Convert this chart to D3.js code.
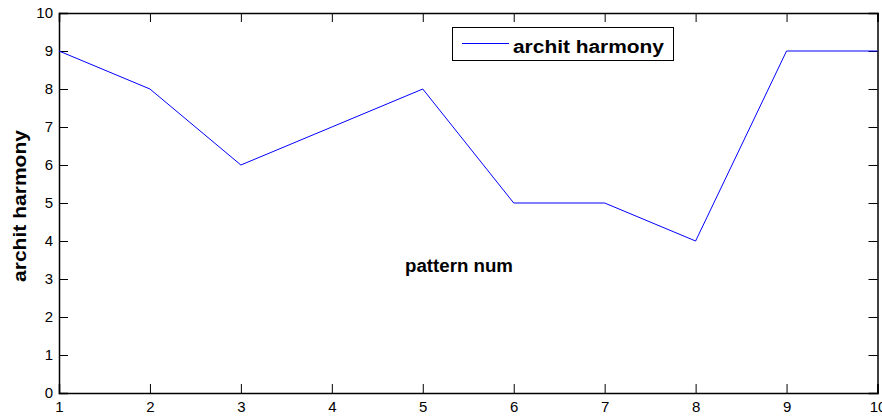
<!DOCTYPE html>
<html><head><meta charset="utf-8">
<script src="https://cdn.jsdelivr.net/npm/d3@7/dist/d3.min.js"></script>
<style>body{margin:0;background:#fff}svg{display:block}text{font-family:"Liberation Sans",Arial,sans-serif}</style>
</head><body><svg id="c" width="882" height="416"></svg>
<script>
const patterns = [1,2,3,4,5,6,7,8,9,10];
const harmony = [9,8,6,7,8,5,5,4,9,9];
const xTicks = [1,2,3,4,5,6,7,8,9,10];
const yTicks = [0,1,2,3,4,5,6,7,8,9,10];
const seriesName = "archit harmony";
const xLabel = "pattern num";
const yLabel = "archit harmony";

const svg = d3.select("#c");
const L=59, R=877.5, T=13, B=393;
const x = d3.scaleLinear().domain([1,10]).range([L,R]);
const y = d3.scaleLinear().domain([0,10]).range([B,T]);

svg.append("rect").attr("x",0).attr("y",0).attr("width",882).attr("height",416).attr("fill","#fff");

const tl=9;
const gB = svg.append("g").attr("transform",`translate(0,${B})`)
  .call(d3.axisBottom(x).tickValues(xTicks).tickSize(-tl).tickPadding(8).tickFormat(d3.format("d")));
const gT = svg.append("g").attr("transform",`translate(0,${T})`)
  .call(d3.axisTop(x).tickValues(xTicks).tickSize(-tl).tickFormat(""));
const gL = svg.append("g").attr("transform",`translate(${L},0)`)
  .call(d3.axisLeft(y).tickValues(yTicks).tickSize(-tl).tickPadding(6).tickFormat(d3.format("d")));
const gR = svg.append("g").attr("transform",`translate(${R},0)`)
  .call(d3.axisRight(y).tickValues(yTicks).tickSize(-tl).tickFormat(""));
[gB,gT,gL,gR].forEach(g=>{
  g.select(".domain").attr("stroke","#000").attr("stroke-width",1.5);
  g.selectAll(".tick line").attr("stroke","#000");
  g.selectAll(".tick text").attr("fill","#000").style("font-size","15px").style("font-family","Liberation Sans, Arial, sans-serif");
});

svg.append("path").datum(patterns.map((p,i)=>[p,harmony[i]]))
  .attr("fill","none").attr("stroke","#0000ff").attr("stroke-width",1)
  .attr("d",d3.line().x(d=>x(d[0])).y(d=>y(d[1])));

// legend
const lg = svg.append("g");
lg.append("rect").attr("x",452.5).attr("y",27.5).attr("width",221).attr("height",33)
  .attr("fill","#fff").attr("stroke","#000").attr("stroke-width",1);
lg.append("line").attr("x1",462).attr("x2",509).attr("y1",43.5).attr("y2",43.5).attr("stroke","#0000ff");
lg.append("text").attr("x",513).attr("y",53).text(seriesName)
  .attr("textLength",151).attr("lengthAdjust","spacingAndGlyphs")
  .style("font-size","18px").style("font-weight","bold").attr("fill","#000");

svg.append("text").attr("x",405).attr("y",272).text(xLabel)
  .attr("textLength",108).attr("lengthAdjust","spacingAndGlyphs")
  .style("font-size","18px").style("font-weight","bold");
svg.append("text").attr("transform","translate(26,282) rotate(-90)").text(yLabel)
  .attr("textLength",152).attr("lengthAdjust","spacingAndGlyphs")
  .style("font-size","18px").style("font-weight","bold");
</script></body></html>
